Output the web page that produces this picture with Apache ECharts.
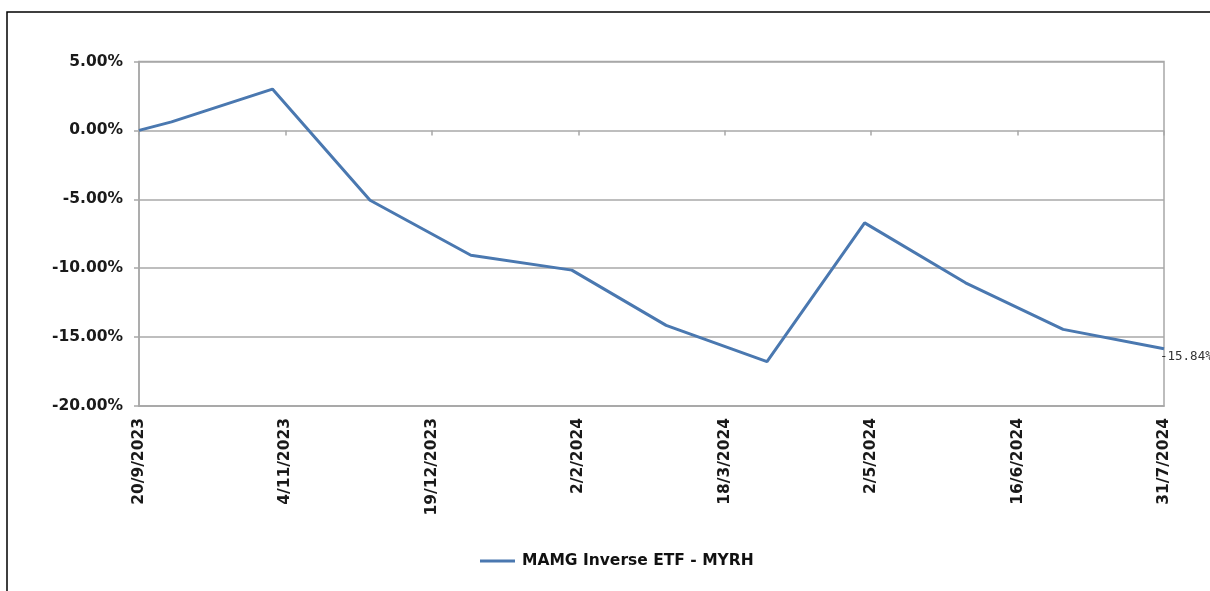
<!DOCTYPE html>
<html>
<head>
<meta charset="utf-8">
<script src="https://cdn.jsdelivr.net/npm/echarts@6/dist/echarts.min.js"></script>
<style>
html,body{margin:0;padding:0;background:#fff;}
#chart{width:1210px;height:591px;}
</style>
</head>
<body>
<div id="chart"></div>
<script>
// ---- data ----
var seriesName = 'MAMG Inverse ETF - MYRH';
var dates = ['2023-09-20','2023-09-30','2023-10-31','2023-11-30','2023-12-31','2024-01-31',
             '2024-02-29','2024-03-31','2024-04-30','2024-05-31','2024-06-30','2024-07-31'];
var returns = [0.00, 0.62, 3.00, -5.07, -9.06, -10.14, -14.15, -16.78, -6.71, -11.06, -14.44, -15.84];
var endLabelText = '-15.84%';
var yTicks = [-20, -15, -10, -5, 0, 5];
var tickStartDate = '2023-09-20';
var tickEndDate = '2024-07-31';
var tickStepDays = 45;

function ts(s){ var p = s.split('-'); return Date.UTC(+p[0], +p[1]-1, +p[2]); }
function fmtDate(v){ var d = new Date(v); return d.getUTCDate() + '/' + (d.getUTCMonth()+1) + '/' + d.getUTCFullYear(); }

var DAY = 86400000;
var lineData = dates.map(function(d, i){ return [ts(d), returns[i]]; });

var chart = echarts.init(document.getElementById('chart'), null, {renderer: 'canvas'});
var gridColor = '#a8a8a8';
var fontBold = { fontFamily: 'DejaVu Sans', fontWeight: 'bold', color: '#1a1a1a' };

chart.setOption({
  backgroundColor: '#fff',
  animation: false,
  grid: { left: 139, right: 46, top: 61.5, bottom: 185, show: true, borderColor: gridColor, borderWidth: 1.5 },
  xAxis: [{
    type: 'value',
    position: 'bottom',
    min: ts(tickStartDate), max: ts(tickEndDate), interval: tickStepDays * DAY,
    axisLine: { show: true, onZero: false, lineStyle: { color: gridColor, width: 1.5 } },
    axisTick: { show: false },
    splitLine: { show: false },
    axisLabel: Object.assign({ rotate: 90, margin: 12, fontSize: 15.5, formatter: fmtDate,
      showMinLabel: true, showMaxLabel: true }, fontBold)
  }, {
    type: 'value',
    position: 'top',
    min: ts(tickStartDate), max: ts(tickEndDate), interval: tickStepDays * DAY,
    axisLine: { show: false, onZero: true },
    axisTick: { show: true, inside: true, length: 5, lineStyle: { color: gridColor, width: 1.5 } },
    axisLabel: { show: false },
    splitLine: { show: false }
  }],
  yAxis: {
    type: 'value',
    min: yTicks[0], max: yTicks[yTicks.length-1], interval: 5,
    axisLine: { show: true, lineStyle: { color: gridColor, width: 1.5 } },
    axisTick: { show: true, length: 5, lineStyle: { color: gridColor, width: 1.5 } },
    splitLine: { show: true, lineStyle: { color: gridColor, width: 1.5 } },
    axisLabel: Object.assign({ margin: 16, fontSize: 15.5,
      formatter: function(v){ return v.toFixed(2) + '%'; } }, fontBold)
  },
  legend: {
    left: 480, top: 553, padding: 0,
    itemWidth: 35, itemHeight: 3, itemGap: 10,
    icon: 'rect',
    data: [seriesName],
    textStyle: { fontFamily: 'DejaVu Sans', fontWeight: 'bold', fontSize: 15.5, color: '#111', padding: [0,0,0,2] }
  },
  series: [{
    name: seriesName,
    type: 'line',
    xAxisIndex: 0,
    data: lineData,
    showSymbol: false,
    symbol: 'none',
    lineStyle: { color: '#4a78b0', width: 3 },
    itemStyle: { color: '#4a78b0' },
    endLabel: { show: true, formatter: endLabelText, distance: 0, offset: [-4, 8],
      fontFamily: 'DejaVu Sans Mono', fontSize: 12.5, color: '#333' },
    z: 5
  }],
  graphic: [{
    type: 'rect',
    shape: { x: 7, y: 12, width: 1400, height: 800 },
    style: { fill: null, stroke: '#000', lineWidth: 1.5 },
    silent: true
  }]
});
</script>
</body>
</html>
